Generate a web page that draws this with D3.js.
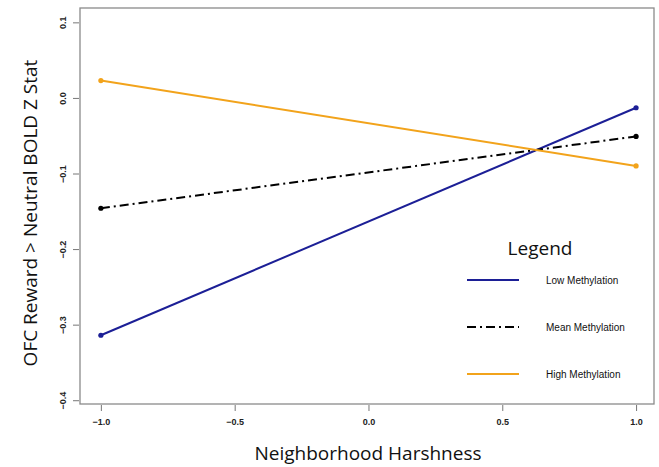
<!DOCTYPE html>
<html><head>
<meta charset="utf-8">
<script src="https://d3js.org/d3.v7.min.js"></script>
<style>
  body { margin: 0; background: #fff; }
</style>
</head>
<body>
<svg id="chart" width="659" height="467"></svg>
<script>
// values
const harshness = [-1, 1];
const lowMeth = [-0.314, -0.013];
const meanMeth = [-0.146, -0.051];
const highMeth = [0.023, -0.090];
const xTicks = [-1.0, -0.5, 0.0, 0.5, 1.0];
const yTicks = [0.1, 0.0, -0.1, -0.2, -0.3, -0.4];
const seriesNames = ["Low Methylation", "Mean Methylation", "High Methylation"];
const seriesColors = ["#1c1f96", "#000000", "#f2a31b"];
const seriesDash = [null, "9,4,2,4", null];

const svg = d3.select("#chart");
const box = {left: 80, right: 654, top: 8, bottom: 404};

const x = d3.scaleLinear().domain([-1.078, 1.067]).range([box.left, box.right]);
const y = d3.scaleLinear().domain([-0.405, 0.119]).range([box.bottom, box.top]);
const fmt = d => d3.format(".1f")(d).replace("-", "\u2212");

// frame
svg.append("rect")
  .attr("x", box.left).attr("y", box.top)
  .attr("width", box.right - box.left).attr("height", box.bottom - box.top)
  .attr("fill", "none").attr("stroke", "#8a8a8a").attr("stroke-width", 1.3);

// x axis
const xa = svg.append("g").attr("transform", `translate(0,${box.bottom + 1})`)
  .call(d3.axisBottom(x).tickValues(xTicks).tickSize(6).tickPadding(8).tickFormat(fmt));
xa.select(".domain").remove();
xa.selectAll("line").attr("stroke", "#777");
xa.selectAll("text").attr("font-family", "Liberation Sans, Arial, sans-serif")
  .attr("font-size", 9).attr("font-weight", "bold").attr("fill", "#222");

// y axis
const ya = svg.append("g").attr("transform", `translate(${box.left - 1},0)`)
  .call(d3.axisLeft(y).tickValues(yTicks).tickSize(6).tickPadding(0));
ya.select(".domain").remove();
ya.selectAll("line").attr("stroke", "#777");
ya.selectAll("text").remove();
ya.selectAll(".tick").append("text")
  .attr("transform", "translate(-13,0) rotate(-90)")
  .attr("text-anchor", "middle")
  .attr("font-family", "Liberation Sans, Arial, sans-serif")
  .attr("font-size", 9).attr("font-weight", "bold").attr("fill", "#222")
  .text(fmt);

// lines
const series = [lowMeth, meanMeth, highMeth];
const line = d3.line().x((d, i) => x(harshness[i])).y(d => y(d));
series.forEach((s, k) => {
  svg.append("path").datum(s)
    .attr("d", line)
    .attr("fill", "none")
    .attr("stroke", seriesColors[k])
    .attr("stroke-width", 2)
    .attr("stroke-dasharray", seriesDash[k]);
  svg.selectAll(null).data(s).join("circle")
    .attr("cx", (d, i) => x(harshness[i]))
    .attr("cy", d => y(d))
    .attr("r", 2.6)
    .attr("fill", seriesColors[k]);
});

// axis titles
svg.append("text")
  .attr("x", 368).attr("y", 460)
  .attr("text-anchor", "middle")
  .attr("font-family", "Open Sans, Lato, sans-serif")
  .attr("font-size", 19).attr("fill", "#111")
  .text("Neighborhood Harshness");

svg.append("text")
  .attr("transform", "translate(37,213) rotate(-90)")
  .attr("text-anchor", "middle")
  .attr("font-family", "Open Sans, Lato, sans-serif")
  .attr("font-size", 19).attr("fill", "#111")
  .text("OFC Reward > Neutral BOLD Z Stat");

// legend
svg.append("text")
  .attr("x", 540).attr("y", 255)
  .attr("text-anchor", "middle")
  .attr("font-family", "Open Sans, Lato, sans-serif")
  .attr("font-size", 19).attr("fill", "#111")
  .text("Legend");

const legendY = d3.scalePoint().domain(seriesNames).range([280, 374]);
const lg = svg.append("g");
seriesNames.forEach((name, k) => {
  lg.append("line")
    .attr("x1", 467).attr("x2", 519)
    .attr("y1", legendY(name)).attr("y2", legendY(name))
    .attr("stroke", seriesColors[k]).attr("stroke-width", 2)
    .attr("stroke-dasharray", seriesDash[k]);
  lg.append("text")
    .attr("x", 546).attr("y", legendY(name))
    .attr("dy", "0.35em")
    .attr("font-family", "Liberation Sans, Arial, sans-serif")
    .attr("font-size", 10).attr("fill", "#111")
    .text(name);
});
</script>
</body>
</html>
